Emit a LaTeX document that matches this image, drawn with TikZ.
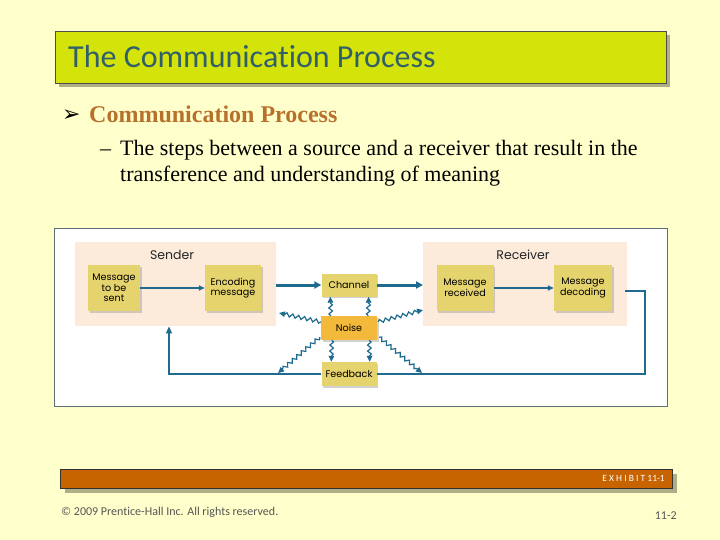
\documentclass[tikz,border=0pt]{standalone}
\usepackage{fontspec}
\setmainfont{Liberation Serif}
\newfontfamily\calib[Ligatures={NoCommon}]{Carlito}
\newfontfamily\geo{Poppins}
\newfontfamily\dejavu{DejaVu Sans}
\usetikzlibrary{arrows.meta,decorations.pathmorphing,shadows,calc}
\definecolor{bg}{HTML}{FFFFCC}
\definecolor{titlefill}{HTML}{D4E30A}
\definecolor{titletext}{HTML}{305F6A}
\definecolor{shadowc}{HTML}{AFAE86}
\definecolor{headc}{HTML}{B8712C}
\definecolor{exhibit}{HTML}{C86400}
\definecolor{panelc}{HTML}{FCEADB}
\definecolor{boxc}{HTML}{E5D36E}
\definecolor{noisec}{HTML}{F2B93A}
\definecolor{linec}{HTML}{1F6A8F}
\definecolor{framec}{HTML}{5E6F78}
\definecolor{footc}{HTML}{555555}
\tikzset{
  panel/.style={fill=panelc, anchor=north west, inner sep=0pt},
  pbox/.style={fill=boxc, align=center, inner sep=1pt,
    font=\geo\fontsize{9.6}{10.6}\selectfont,
    drop shadow={opacity=0.35, shadow xshift=1.5pt, shadow yshift=-1.5pt}},
  plabel/.style={font=\geo\fontsize{12.5}{14}\selectfont, text=black!85},
  thinarr/.style={draw=linec, line width=1.6pt, -{Triangle[length=6pt,width=5pt]}},
  thickarr/.style={draw=linec, line width=3pt, -{Triangle[length=7pt,width=7pt]}},
  fbline/.style={draw=linec, line width=1.2pt},
  wavy/.style={draw=linec, line width=1.2pt,
    decorate, decoration={snake, segment length=6pt, amplitude=1.8pt, post length=5pt},
    -{Triangle[length=6pt,width=5.5pt]}},
}
\begin{document}
\begin{tikzpicture}[x=1pt,y=-1pt]
\useasboundingbox (0,0) rectangle (720,540);
\fill[bg] (0,0) rectangle (720,540);

% title bar
\fill[shadowc] (59,35) rectangle (670,87);
\node[draw=black!70, line width=0.6pt, fill=titlefill, anchor=north west,
  minimum width=611pt, minimum height=52pt, inner sep=0pt] (titlebar) at (55,31) {};
\node[anchor=base west, inner sep=0pt, text=titletext,
  font=\calib\fontsize{32}{36}\selectfont] (title) at (68,68) {The Communication Process};

% bullet text
\node[anchor=base west, inner sep=0pt, font=\dejavu\fontsize{22}{24}\selectfont] (bul) at (62,122) {➢};
\node[anchor=base west, inner sep=0pt, text=headc, font=\bfseries\fontsize{24}{28}\selectfont] (head) at (89,123) {Communication Process};
\node[anchor=base west, inner sep=0pt, font=\fontsize{22}{26}\selectfont] (dash) at (100,156) {–};
\node[anchor=base west, inner sep=0pt, font=\fontsize{22}{26}\selectfont] (body1) at (120,156) {The steps between a source and a receiver that result in the};
\node[anchor=base west, inner sep=0pt, font=\fontsize{22}{26}\selectfont] (body2) at (120,182) {transference and understanding of meaning};

% diagram frame
\node[draw=framec, line width=0.8pt, fill=white, anchor=north west,
  minimum width=613pt, minimum height=178pt, inner sep=0pt] (frame) at (54,228) {};

% panels
\node[panel, minimum width=201pt, minimum height=84pt] (sender) at (75,242) {};
\node[panel, minimum width=204pt, minimum height=84pt] (receiver) at (423,242) {};
\node[plabel] (senderlbl) at (172,255) {Sender};
\node[plabel] (receiverlbl) at (523,255) {Receiver};

% boxes
\node[pbox, minimum width=52pt, minimum height=46pt] (msg) at (114,288) {Message\\to be\\sent};
\node[pbox, minimum width=56pt, minimum height=46pt] (enc) at (233,288) {Encoding\\message};
\node[pbox, minimum width=55pt, minimum height=23pt] (chan) at (349,285) {Channel};
\node[pbox, fill=noisec, minimum width=56pt, minimum height=24pt] (noise) at (349,328) {Noise};
\node[pbox, minimum width=55pt, minimum height=24pt] (fb) at (349,374) {Feedback};
\node[pbox, minimum width=57pt, minimum height=46pt] (rec) at (465,288) {Message\\received};
\node[pbox, minimum width=58pt, minimum height=46pt] (dec) at (583,288) {Message\\decoding};

% main arrows
\draw[thinarr] (msg.east) -- (enc.west);
\draw[thinarr] (rec.east) -- (dec.west);
\draw[thickarr] (sender.east |- chan.west) -- (chan.west);
\draw[thickarr] (chan.east) -- (receiver.west |- chan.east);

% feedback loop
\coordinate (fbR) at (645,374);
\coordinate (fbL) at (169,374);
\draw[fbline] (dec.east) ++(13,3) -| (fbR) -- (fb.east);
\draw[fbline, -{Triangle[length=7pt,width=6pt]}] (fb.west) -- (fbL) -- (sender.south -| fbL);

% noise waves
\draw[wavy] ($(noise.north west)+(10,0)$) -- ($(chan.south west)+(9,0)$);
\draw[wavy] ($(noise.north east)+(-9,0)$) -- ($(chan.south east)+(-8,0)$);
\draw[wavy] ($(noise.south west)+(11,0)$) -- ($(fb.north west)+(10,0)$);
\draw[wavy] ($(noise.south east)+(-8,0)$) -- ($(fb.north east)+(-7,0)$);
\coordinate (tUL) at (279,313);
\coordinate (tUR) at (423,310);
\coordinate (tDL) at (278,373);
\coordinate (tDR) at (422,373);
\draw[wavy] ($(noise.north west)+(0,6)$) -- (tUL);
\draw[wavy] ($(noise.north east)+(1,6)$) -- (tUR);
\draw[wavy] ($(noise.south west)+(-1,-3)$) -- (tDL);
\draw[wavy] ($(noise.south east)+(2,-3)$) -- (tDR);

% exhibit bar
\fill[shadowc] (65,474) rectangle (677,493);
\node[draw=black!80, line width=0.6pt, fill=exhibit, anchor=north west,
  minimum width=612pt, minimum height=19pt, inner sep=0pt] (exbar) at (60,469) {};
\node[anchor=east, inner sep=0pt, text=white, font=\calib\fontsize{9.5}{10}\selectfont] (extext) at (665,478.5) {E X H I B I T 11-1};

% footer
\node[anchor=west, inner sep=0pt, text=footc, font=\calib\fontsize{12}{14}\selectfont] (copy) at (61,512) {© 2009 Prentice-Hall Inc. All rights reserved.};
\node[anchor=east, inner sep=0pt, text=footc, font=\calib\fontsize{12}{14}\selectfont] (pg) at (677,516) {11-2};
\end{tikzpicture}
\end{document}
